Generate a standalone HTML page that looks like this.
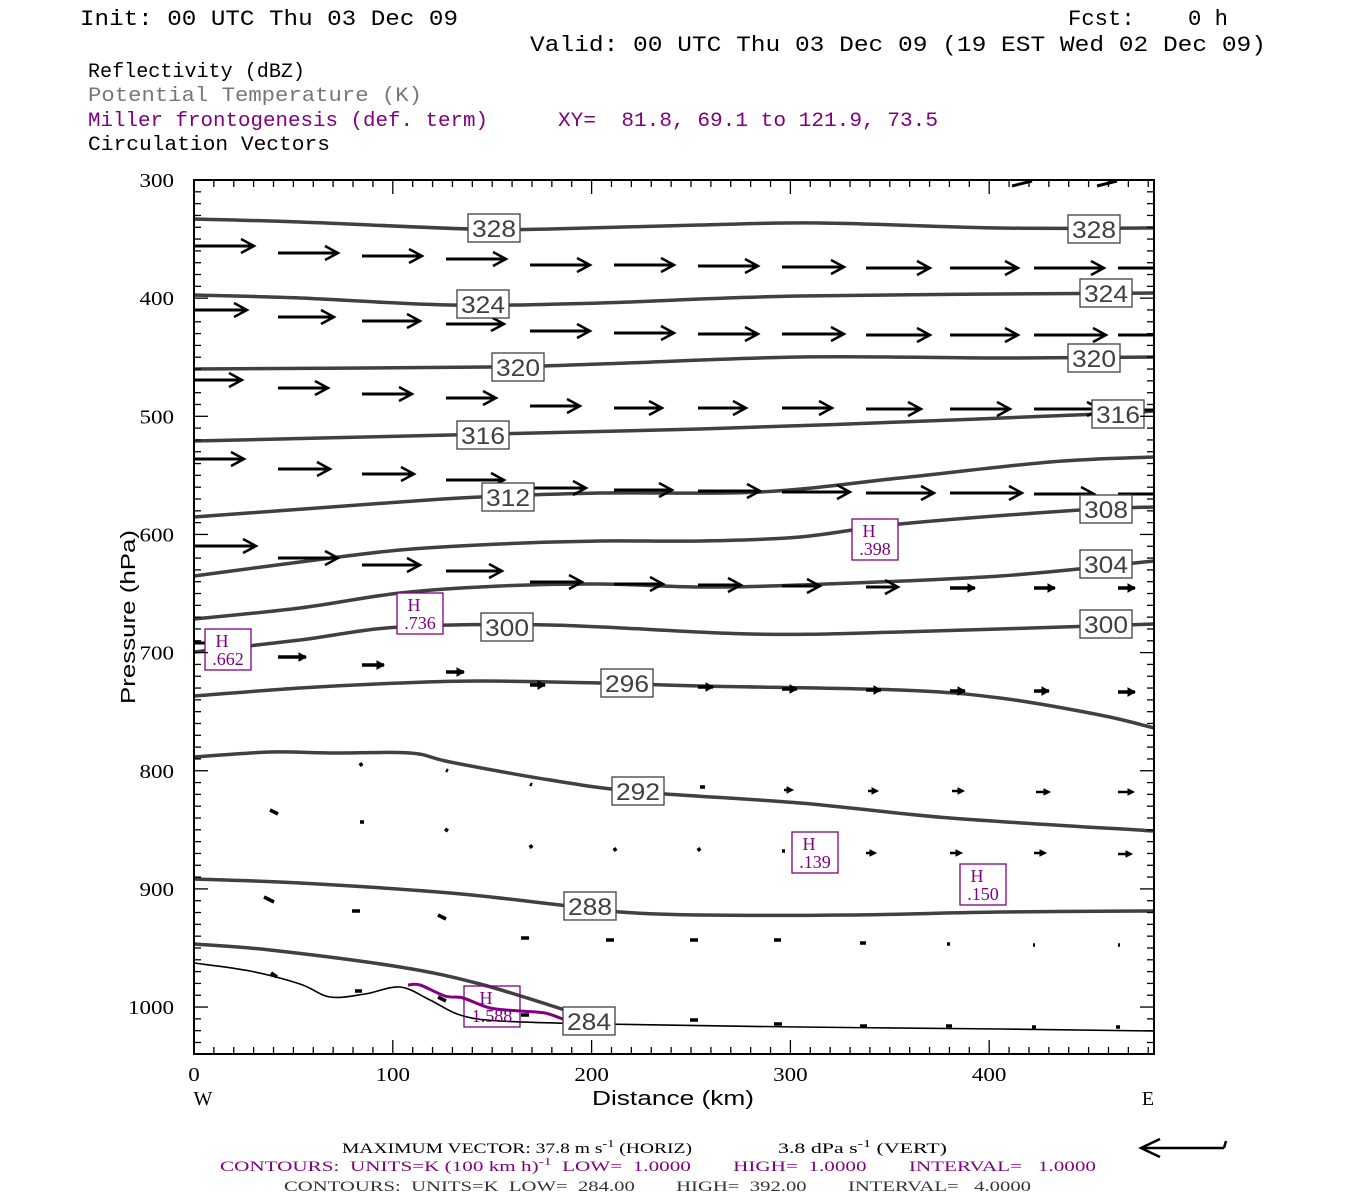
<!DOCTYPE html>
<html><head><meta charset="utf-8"><style>
html,body{margin:0;padding:0;background:#fff;width:1350px;height:1200px;overflow:hidden}
svg{display:block}
.m{font-family:"Liberation Mono",monospace}
.s{font-family:"Liberation Serif",serif}
</style></head><body>
<svg id="g" width="1350" height="1200" xmlns="http://www.w3.org/2000/svg">
<g class="m" font-size="22">
<text x="80" y="25" textLength="378" lengthAdjust="spacingAndGlyphs">Init: 00 UTC Thu 03 Dec 09</text>
<text x="1068" y="25" textLength="160" lengthAdjust="spacingAndGlyphs" xml:space="preserve">Fcst:    0 h</text>
<text x="530" y="51" textLength="736" lengthAdjust="spacingAndGlyphs">Valid: 00 UTC Thu 03 Dec 09 (19 EST Wed 02 Dec 09)</text>
</g>
<g class="m" font-size="20">
<text x="88" y="77" textLength="217" lengthAdjust="spacingAndGlyphs">Reflectivity (dBZ)</text>
<text x="88" y="101" fill="#777" textLength="334" lengthAdjust="spacingAndGlyphs">Potential Temperature (K)</text>
<text x="88" y="126" fill="#800080" textLength="400" lengthAdjust="spacingAndGlyphs">Miller frontogenesis (def. term)</text>
<text x="558" y="126" fill="#800080" textLength="380" lengthAdjust="spacingAndGlyphs" xml:space="preserve">XY=  81.8, 69.1 to 121.9, 73.5</text>
<text x="88" y="150" textLength="242" lengthAdjust="spacingAndGlyphs">Circulation Vectors</text>
</g>
<g id="contours" fill="none" stroke="#404040" stroke-width="3.5" stroke-linejoin="round"></g>
<g id="arrows" stroke="#000" fill="none"></g>
<g id="labels"></g>
<g id="axes"></g>
<g class="s" font-size="15">
<text x="342" y="1153" textLength="350" lengthAdjust="spacingAndGlyphs">MAXIMUM VECTOR:  37.8 m s<tspan dy="-6" font-size="11">-1</tspan><tspan dy="6"> (HORIZ)</tspan></text>
<text x="778" y="1153" textLength="169" lengthAdjust="spacingAndGlyphs">3.8 dPa s<tspan dy="-6" font-size="11">-1</tspan><tspan dy="6"> (VERT)</tspan></text>
<text x="220" y="1171" fill="#800080" textLength="876" lengthAdjust="spacingAndGlyphs" xml:space="preserve">CONTOURS:  UNITS=K (100 km h)<tspan dy="-6" font-size="11">-1</tspan><tspan dy="6">  LOW=  1.0000        HIGH=  1.0000        INTERVAL=   1.0000</tspan></text>
<text x="284" y="1191" fill="#333" textLength="747" lengthAdjust="spacingAndGlyphs" xml:space="preserve">CONTOURS:  UNITS=K  LOW=  284.00        HIGH=  392.00        INTERVAL=   4.0000</text>
</g>
<g stroke="#000" stroke-width="2.5" fill="none"><line x1="1141" y1="1148" x2="1224" y2="1148"/><line x1="1224" y1="1148" x2="1226" y2="1141"/><polyline points="1160,1139 1141,1148 1160,1157"/></g>
</svg>
<script>
var NS="http://www.w3.org/2000/svg";
function el(p,t,a,txt){var e=document.createElementNS(NS,t);for(var k in a)e.setAttribute(k,a[k]);if(txt!=null)e.textContent=txt;document.getElementById(p).appendChild(e);return e;}
function smooth(s){var P=s.split(" ").map(function(q){return q.split(",").map(Number);});
 var d="M"+P[0][0]+","+P[0][1];
 for(var i=0;i<P.length-1;i++){var p0=P[i-1]||P[i],p1=P[i],p2=P[i+1],p3=P[i+2]||p2;
  d+=" C"+(p1[0]+(p2[0]-p0[0])/6)+","+(p1[1]+(p2[1]-p0[1])/6)+" "+(p2[0]-(p3[0]-p1[0])/6)+","+(p2[1]-(p3[1]-p1[1])/6)+" "+p2[0]+","+p2[1];}
 return d;}
var C=[
"194,219 300,222 470,229 550,229 700,225 820,223 1000,228 1154,228",
"194,295 300,298 450,305 600,303 800,296 1154,293",
"194,369 490,367 600,364 800,357 1000,358 1154,357",
"194,441 450,435 700,429 900,422 1100,414 1154,411",
"194,517 400,502 480,497 600,493 760,492 900,478 1050,462 1154,457",
"194,576 300,562 400,550 500,544 600,541 700,541 800,537 900,524 1080,510 1154,507",
"194,619 300,608 400,593 500,586 600,584 700,587 800,585 1000,576 1154,561",
"194,652 300,640 400,627 550,625 750,634 900,632 1154,624",
"194,696 300,688 400,683 480,681 600,683 700,686 900,690 1000,698 1100,715 1154,728",
"194,757 270,752 330,753 410,753 450,762 550,780 640,792 800,803 950,818 1154,831",
"194,879 300,883 450,893 560,905 620,912 700,915 850,915 1000,912 1154,911",
"194,944 270,950 400,967 480,984 565,1010"];
C.forEach(function(p){el("contours","path",{d:smooth(p)});});
el("contours","path",{d:smooth("194,963 250,971 300,984 330,997 365,994 400,987 430,1000 460,1015 500,1021 600,1024 800,1027 1000,1029 1154,1031"),stroke:"#000","stroke-width":1.6});
el("contours","path",{d:smooth("408,985 420,985 445,996 463,998 490,1008 520,1011 545,1013 565,1020"),stroke:"#800080","stroke-width":3});
var R=[
[[246,253,256,259,265,265,266,267,268,268,268,268],[60,60,60,60,60,60,60,62,64,68,70,40]],
[[310,317,321,324,331,333,334,334,335,335,335,335],[53,56,58,58,60,60,60,62,64,68,72,40]],
[[380,388,394,398,406,408,408,408,409,409,409,410],[48,50,50,50,50,48,48,50,55,60,66,60]],
[[459,469,474,480,488,490,491,492,493,493,494,494],[50,52,52,58,56,58,62,68,68,72,60,40]],
[[546,558,565,571,582,584,585,586,587,588,588,588],[62,60,58,56,52,49,43,38,32,25,21,17]],
[[643,657,665,672,685,686,687,689,690,691,691,692],[44,28,22,18,15,14,15,15,15,15,15,17]]];
R.forEach(function(r){for(var i=0;i<12;i++){var x=194+84*i,y=r[0][i],L=r[1][i],x2=Math.min(x+L,1154);
 var big=L>30;el("arrows","line",{x1:x,y1:y,x2:x2,y2:y,"stroke-width":big?3:3.5});
 if(x+L<=1154){ if(big){el("arrows","polyline",{points:(x2-13)+","+(y-7)+" "+x2+","+y+" "+(x2-13)+","+(y+7),"stroke-width":2.5});}
 else el("arrows","polygon",{points:(x2-7)+","+(y-4)+" "+x2+","+y+" "+(x2-7)+","+(y+4),fill:"#000","stroke-width":1});}}});
var S=[[360,763,2,3],[446,770,2,1],[530,784,2,1],[700,787,5,0],[784,790,9,0],[868,791,10,0],[952,791,12,0],[1036,792,14,0],[1118,792,16,0],
[270,810,8,4],[360,822,4,0],[445,829,3,2],[530,845,1,3],[614,848,1,3],[698,848,1,3],[782,851,3,0],[866,853,10,0],[950,853,12,0],[1034,853,12,0],[1118,854,14,0],
[264,897,10,5],[352,911,8,0],[438,915,8,4],[521,938,8,0],[606,940,8,0],[690,940,8,0],[774,940,7,0],[860,943,6,0],[947,944,3,0],[1033,945,2,0],[1118,945,2,0],
[271,973,6,4],[355,991,7,0],[438,997,8,4],[521,1015,8,0],[606,1017,8,0],[690,1020,8,0],[774,1024,8,0],[860,1026,7,0],[946,1026,6,0],[1032,1027,4,0],[1116,1027,4,0]];
S.forEach(function(a){var x2=a[0]+Math.max(a[2],2),y=a[1];
 if(a[2]>=9&&a[3]==0){el("arrows","line",{x1:a[0],y1:y,x2:x2-4,y2:y,"stroke-width":2.5});
  el("arrows","polygon",{points:(x2-6)+","+(y-3)+" "+x2+","+y+" "+(x2-6)+","+(y+3),fill:"#000","stroke-width":1});}
 else el("arrows","line",{x1:a[0],y1:y,x2:x2,y2:y+a[3],"stroke-width":3.5});});
var T=[[494,228,"328"],[1094,229,"328"],[483,304,"324"],[1106,293,"324"],[518,367,"320"],[1094,358,"320"],[483,435,"316"],[1118,414,"316"],[508,497,"312"],[1106,509,"308"],[1106,564,"304"],[507,627,"300"],[1106,624,"300"],[627,683,"296"],[638,791,"292"],[590,906,"288"],[589,1021,"284"]];
T.forEach(function(t){el("labels","rect",{x:t[0]-26,y:t[1]-14,width:52,height:28,fill:"#fff",stroke:"#404040","stroke-width":1.3});
 el("labels","text",{x:t[0],y:t[1]+9,"text-anchor":"middle","font-family":"Liberation Sans,sans-serif","font-size":24,fill:"#404040",textLength:44,lengthAdjust:"spacingAndGlyphs"},t[2]);});
var H=[[228,649,".662"],[420,613,".736"],[875,539,".398"],[815,852,".139"],[983,884,".150"],[492,1006,"1.588"]];
H.forEach(function(h){var w=h[2].length>4?56:46;el("labels","rect",{x:h[0]-w/2,y:h[1]-20,width:w,height:41,fill:h[2]=="1.588"?"none":"#fff",stroke:"#800080","stroke-width":1.3});
 el("labels","text",{x:h[0]-6,y:h[1]-2,"text-anchor":"middle","font-family":"Liberation Serif,serif","font-size":18,fill:"#800080"},"H");
 el("labels","text",{x:h[0],y:h[1]+16,"text-anchor":"middle","font-family":"Liberation Serif,serif","font-size":18,fill:"#800080"},h[2]);});
var X0=194,X1=1154,Y0=180,Y1=1054;
el("axes","rect",{x:X0,y:Y0,width:X1-X0,height:Y1-Y0,fill:"none",stroke:"#000","stroke-width":2});
function py(p){return 180+(p-300)*1.1815;}
for(var p=310;p<1040;p+=10){var y=py(p),L=(p%100==0)?14:7;
 el("axes","line",{x1:X0,y1:y,x2:X0+L,y2:y,stroke:"#000","stroke-width":1.3});
 el("axes","line",{x1:X1,y1:y,x2:X1-L,y2:y,stroke:"#000","stroke-width":1.3});}
for(var p=300;p<=1000;p+=100){var n=(""+p).length;el("axes","text",{x:174,y:py(p)+7,"text-anchor":"end","font-family":"Liberation Serif,serif","font-size":20,textLength:n*11.5,lengthAdjust:"spacingAndGlyphs"},""+p);}
for(var d=10;d<483;d+=10){var x=194+d*1.988,L=(d%100==0)?14:7;
 el("axes","line",{x1:x,y1:Y1,x2:x,y2:Y1-L,stroke:"#000","stroke-width":1.3});
 el("axes","line",{x1:x,y1:Y0,x2:x,y2:Y0+L,stroke:"#000","stroke-width":1.3});}
for(var d=0;d<=400;d+=100){var s=""+d;el("axes","text",{x:194+d*1.988,y:1081,"text-anchor":"middle","font-family":"Liberation Serif,serif","font-size":20,textLength:s.length*11.5,lengthAdjust:"spacingAndGlyphs"},s);}
el("axes","text",{x:673,y:1105,"text-anchor":"middle","font-family":"Liberation Sans,sans-serif","font-size":20,textLength:162,lengthAdjust:"spacingAndGlyphs"},"Distance (km)");
el("axes","text",{x:203,y:1105,"text-anchor":"middle","font-family":"Liberation Serif,serif","font-size":20},"W");
el("axes","text",{x:1148,y:1105,"text-anchor":"middle","font-family":"Liberation Serif,serif","font-size":20},"E");
el("axes","text",{x:0,y:0,transform:"translate(135,617) rotate(-90)","text-anchor":"middle","font-family":"Liberation Sans,sans-serif","font-size":20,textLength:174,lengthAdjust:"spacingAndGlyphs"},"Pressure (hPa)");
el("axes","line",{x1:1012,y1:186,x2:1032,y2:181,stroke:"#000","stroke-width":3});
el("axes","line",{x1:1097,y1:186,x2:1117,y2:181,stroke:"#000","stroke-width":3});
</script>
</body></html>
